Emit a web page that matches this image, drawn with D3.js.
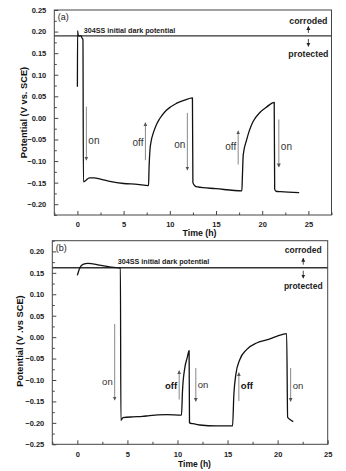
<!DOCTYPE html>
<html><head><meta charset="utf-8">
<script src="https://cdn.jsdelivr.net/npm/d3@7"></script>
<style>
html,body{margin:0;padding:0;background:#fff;}
svg{display:block;font-family:"Liberation Sans",Arial,sans-serif;}
</style></head>
<body><svg id="c" width="346" height="471"></svg>
<script>
// ---- data ----
const timeA = [0,0.02,0.1,0.4,0.5,0.6,0.65,0.9,1.3,1.8,2.5,3.5,5,6.5,7.7,7.75,7.85,8.0,8.2,8.5,8.9,9.6,10.7,11.6,12.45,12.5,12.7,13,15,17.8,17.85,17.95,18.3,18.6,19.0,19.75,20.5,21.3,21.35,21.5,22,24];
const potA  = [0.072,0.202,0.19,0.19,0.185,0.182,-0.148,-0.145,-0.139,-0.139,-0.142,-0.147,-0.152,-0.154,-0.157,-0.12,-0.075,-0.052,-0.036,-0.018,-0.002,0.017,0.0335,0.041,0.0465,-0.150,-0.157,-0.160,-0.164,-0.169,-0.14,-0.085,-0.052,-0.03,-0.009,0.0126,0.0256,0.0358,-0.165,-0.170,-0.171,-0.173];
const timeB = [0,0.23,0.56,1.06,2.2,3.2,4.3,4.35,4.56,5.56,6.5,7.2,8.9,10.4,10.5,10.73,10.96,11.16,11.2,11.56,12.23,13.9,15.5,15.63,15.83,16.23,16.9,17.9,18.9,19.9,20.9,21.0,21.23,21.56];
const potB  = [0.144,0.161,0.170,0.172,0.168,0.164,0.161,-0.194,-0.188,-0.186,-0.185,-0.183,-0.181,-0.182,-0.126,-0.072,-0.049,-0.0315,-0.200,-0.202,-0.205,-0.207,-0.207,-0.134,-0.087,-0.052,-0.029,-0.0136,-0.0066,0.0017,0.008,-0.187,-0.192,-0.197];
const darkA = 0.19, darkB = 0.162;
const xTicksA = [0,5,10,15,20,25];
const xTicksB = [0,5,10,15,20,25];
const yTicksA = [-0.20,-0.15,-0.10,-0.05,0.00,0.05,0.10,0.15,0.20,0.25];
const yTicksB = [-0.25,-0.20,-0.15,-0.10,-0.05,0.00,0.05,0.10,0.15,0.20];
// annotation arrows: time, start potential, end potential, label, label side, label potential
const arrowsA = [
  [0.97,0.026,-0.098,"on","r",-0.0516],
  [7.36,-0.098,-0.011,"off","l",-0.058],
  [11.9,0.0117,-0.121,"on","l",-0.061],
  [17.4,-0.108,-0.03,"off","l",-0.0655],
  [21.8,-0.0036,-0.114,"on","r",-0.0655]
];
const arrowsB = [
  [3.73,0.0306,-0.147,"on","l",-0.103],
  [10.17,-0.1455,-0.078,"off","l",-0.112],
  [11.83,-0.072,-0.150,"on","r",-0.111],
  [16.13,-0.149,-0.083,"off","r",-0.112],
  [21.3,-0.072,-0.150,"on","r",-0.112]
];

const svg = d3.select("#c");
svg.append("rect").attr("width",346).attr("height",471).attr("fill","#fff");
const defs = svg.append("defs");
function marker(id, col){
  defs.append("marker").attr("id",id).attr("viewBox","0 0 10 10").attr("refX",9).attr("refY",5)
    .attr("markerWidth",4).attr("markerHeight",5).attr("markerUnits","userSpaceOnUse").attr("orient","auto")
    .append("path").attr("d","M0,0L10,5L0,10Z").attr("fill",col);
}
marker("ag","#555"); marker("ak","#222");

function panel(o){
  const g = svg.append("g");
  const x = d3.scaleLinear().domain(o.xd).range([o.l,o.r]);
  const y = d3.scaleLinear().domain(o.yd).range([o.b,o.t]);
  // ticks
  const xMinor = d3.range(o.xd[0], o.xd[1]+0.001, 2.5);
  const yMinor = d3.range(o.yd[0], o.yd[1]+0.0001, 0.025);
  const ax = d3.axisBottom(x).tickValues(o.xt).tickSize(-4).tickFormat(d3.format("d")).tickPadding(7);
  const axG = g.append("g").attr("transform",`translate(0,${o.b})`).call(ax);
  g.append("g").attr("transform",`translate(0,${o.b})`).call(d3.axisBottom(x).tickValues(xMinor.filter(v=>v%5!==0)).tickSize(-2.5).tickFormat(""));
  const ay = d3.axisLeft(y).tickValues(o.yt).tickSize(-4).tickFormat(d3.format(".2f")).tickPadding(8);
  const ayG = g.append("g").attr("transform",`translate(${o.l},0)`).call(ay);
  g.append("g").attr("transform",`translate(${o.l},0)`).call(d3.axisLeft(y).tickValues(yMinor.filter(v=>Math.abs(Math.round(v*40))%2===1)).tickSize(-2.5).tickFormat(""));
  g.selectAll(".domain").remove();
  g.selectAll(".tick line").attr("stroke","#444");
  g.selectAll(".tick text").attr("font-size",7.5).attr("font-weight","bold").attr("fill","#222").attr("font-family","Liberation Sans, Arial, sans-serif");
  axG.selectAll(".tick text").attr("dy","0.71em");
  // frame
  g.append("rect").attr("x",o.l).attr("y",o.t).attr("width",o.r-o.l).attr("height",o.b-o.t)
    .attr("fill","none").attr("stroke","#444").attr("stroke-width",1);
  // dark potential line
  const yd = y(o.dark);
  g.append("line").attr("x1",o.l).attr("x2",o.r).attr("y1",yd).attr("y2",yd).attr("stroke","#333").attr("stroke-width",1.4);
  g.append("text").attr("x",x(o.dtx)).attr("y",yd-o.dty).attr("font-size",7.2).attr("font-weight","bold").attr("fill","#222")
    .text("304SS initial dark potential");
  // corroded/protected
  const cx = x(o.ct);
  g.append("text").attr("x",cx).attr("y",yd-o.cu).attr("text-anchor","middle").attr("dominant-baseline","central")
    .attr("font-size",o.cfs).attr("font-weight","bold").attr("fill","#222").text("corroded");
  g.append("text").attr("x",cx).attr("y",yd+o.pd).attr("text-anchor","middle").attr("dominant-baseline","central")
    .attr("font-size",o.cfs).attr("font-weight","bold").attr("fill","#222").text("protected");
  g.append("line").attr("x1",cx).attr("x2",cx).attr("y1",yd-3).attr("y2",yd-9.5).attr("stroke","#222").attr("stroke-width",0.8).attr("marker-end","url(#ak)");
  g.append("line").attr("x1",cx).attr("x2",cx).attr("y1",yd+3).attr("y2",yd+10.5).attr("stroke","#222").attr("stroke-width",0.8).attr("marker-end","url(#ak)");
  // panel label
  g.append("text").attr("x",o.l+3.5).attr("y",o.t+o.pl).attr("dominant-baseline","central").attr("font-size",9).attr("fill","#222").text(o.label);
  // curve
  const pts = o.tx.map((t,i)=>[t,o.py[i]]);
  g.append("path").datum(pts).attr("fill","none").attr("stroke","#111").attr("stroke-width",1.3).attr("stroke-linejoin","round")
    .attr("d", d3.line().curve(d3.curveMonotoneX).x(d=>x(d[0])).y(d=>y(d[1])));
  // arrows
  o.arrows.forEach(a=>{
    const ax0 = x(a[0]);
    g.append("line").attr("x1",ax0).attr("x2",ax0).attr("y1",y(a[1])).attr("y2",y(a[2]))
      .attr("stroke","#888").attr("stroke-width",1).attr("marker-end","url(#ag)");
    const bold = o.offBold && a[3]==="off";
    g.append("text").attr("x", a[4]==="r" ? ax0+o.lo : ax0-o.lo).attr("y",y(a[5]))
      .attr("text-anchor", a[4]==="r" ? "start" : "end").attr("dominant-baseline","central")
      .attr("font-size",o.afs).attr("font-weight",bold?"bold":"normal").attr("fill",bold?"#111":"#333").text(a[3]);
  });
  // axis titles
  g.append("text").attr("x",o.xtx).attr("y",o.xty).attr("text-anchor","middle").attr("font-size",o.tfs).attr("font-weight","bold").attr("fill","#111").text("Time (h)");
  g.append("text").attr("transform",`translate(${o.ytx},${o.yty}) rotate(-90)`).attr("text-anchor","middle").attr("dominant-baseline","central")
    .attr("font-size",9.3).attr("font-weight","bold").attr("fill","#111").text(o.ytitle);
}

panel({l:54.3,r:331.5,t:10,b:215,xd:[-2.5,27.5],yd:[-0.225,0.25],xt:xTicksA,yt:yTicksA,
  dark:darkA,dtx:0.68,dty:2.8,ct:25,cu:15,pd:18.6,cfs:8.8,label:"(a)",pl:6.7,
  tx:timeA,py:potA,arrows:arrowsA,offBold:false,lo:2,afs:10,
  xtx:199.5,xty:236,tfs:8.8,ytx:24,yty:112.5,ytitle:"Potential (V vs. SCE)"});
panel({l:52.3,r:327.7,t:240.7,b:444.3,xd:[-2.5,25],yd:[-0.25,0.225],xt:xTicksB,yt:yTicksB,
  dark:darkB,dtx:4.03,dty:4.2,ct:22.56,cu:17.7,pd:18.3,cfs:8.5,label:"(b)",pl:7,
  tx:timeB,py:potB,arrows:arrowsB,offBold:true,lo:2,afs:9.5,
  xtx:194.5,xty:467,tfs:8.5,ytx:20,yty:341,ytitle:"Potential (V .vs SCE)"});
</script></body></html>
